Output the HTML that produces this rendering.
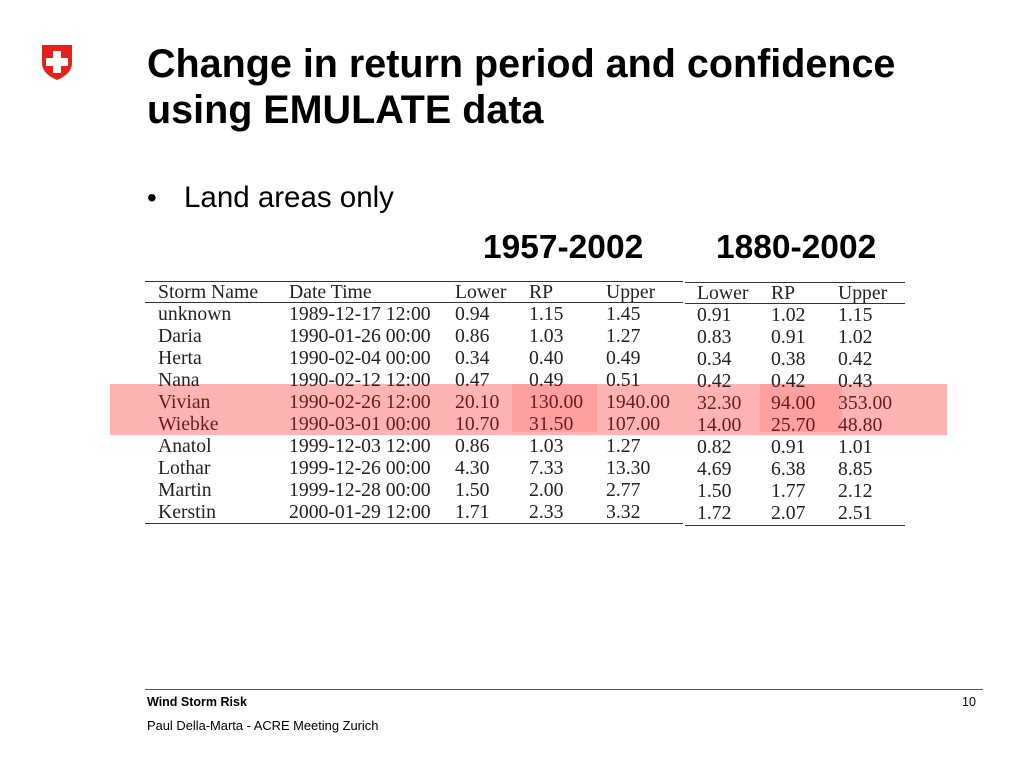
<!DOCTYPE html>
<html><head><meta charset="utf-8"><style>
body{margin:0;width:1024px;height:768px;background:#fff;position:relative;overflow:hidden;font-family:"Liberation Sans",sans-serif;color:#000}
.a{position:absolute;white-space:nowrap}
.s{font-family:"Liberation Serif",serif;font-size:19.7px;color:#222;line-height:22px}
.h{color:#6a1a1a}
.ln{position:absolute;height:1px;background:#333}
</style></head><body>
<svg class="a" style="left:40px;top:43px" width="34" height="38" viewBox="0 0 34 38">
<path d="M2 2 H32 V20 C32 29 24 34 17 37 C10 34 2 29 2 20 Z" fill="#e8201c"/>
<path d="M13 8h8v7h7v8h-7v7h-8v-7H6v-8h7z" fill="#fff"/></svg>
<div class="a" style="left:147px;top:41px;font-size:39.5px;font-weight:bold;line-height:46px">Change in return period and confidence<br>using EMULATE data</div>
<div class="a" style="left:147px;top:182px;font-size:28px">•</div>
<div class="a" style="left:184px;top:181px;font-size:29.5px">Land areas only</div>
<div class="a" style="left:483px;top:229px;font-size:33.5px;font-weight:bold">1957-2002</div>
<div class="a" style="left:716px;top:229px;font-size:33.5px;font-weight:bold">1880-2002</div>

<div class="a" style="left:110px;top:384px;width:837px;height:51px;background:#ffb4b4"></div>
<div class="a" style="left:512px;top:384px;width:85px;height:48px;background:#ffa0a0"></div>
<div class="a" style="left:760px;top:384px;width:82px;height:48px;background:#ffa0a0"></div>

<div class="ln" style="left:145px;top:281px;width:538px"></div>
<div class="ln" style="left:145px;top:302px;width:538px"></div>
<div class="ln" style="left:145px;top:523px;width:538px"></div>
<div class="ln" style="left:685px;top:282px;width:220px"></div>
<div class="ln" style="left:685px;top:303px;width:220px"></div>
<div class="ln" style="left:685px;top:525px;width:220px"></div>

<div class="a s" style="left:158px;top:281px">Storm Name<br>unknown<br>Daria<br>Herta<br>Nana<br><span class="h">Vivian<br>Wiebke</span><br>Anatol<br>Lothar<br>Martin<br>Kerstin</div>
<div class="a s" style="left:289px;top:281px">Date Time<br>1989-12-17 12:00<br>1990-01-26 00:00<br>1990-02-04 00:00<br>1990-02-12 12:00<br><span class="h">1990-02-26 12:00<br>1990-03-01 00:00</span><br>1999-12-03 12:00<br>1999-12-26 00:00<br>1999-12-28 00:00<br>2000-01-29 12:00</div>
<div class="a s" style="left:455px;top:281px">Lower<br>0.94<br>0.86<br>0.34<br>0.47<br><span class="h">20.10<br>10.70</span><br>0.86<br>4.30<br>1.50<br>1.71</div>
<div class="a s" style="left:529px;top:281px">RP<br>1.15<br>1.03<br>0.40<br>0.49<br><span class="h">130.00<br>31.50</span><br>1.03<br>7.33<br>2.00<br>2.33</div>
<div class="a s" style="left:606px;top:281px">Upper<br>1.45<br>1.27<br>0.49<br>0.51<br><span class="h">1940.00<br>107.00</span><br>1.27<br>13.30<br>2.77<br>3.32</div>
<div class="a s" style="left:697px;top:282px">Lower<br>0.91<br>0.83<br>0.34<br>0.42<br><span class="h">32.30<br>14.00</span><br>0.82<br>4.69<br>1.50<br>1.72</div>
<div class="a s" style="left:771px;top:282px">RP<br>1.02<br>0.91<br>0.38<br>0.42<br><span class="h">94.00<br>25.70</span><br>0.91<br>6.38<br>1.77<br>2.07</div>
<div class="a s" style="left:838px;top:282px">Upper<br>1.15<br>1.02<br>0.42<br>0.43<br><span class="h">353.00<br>48.80</span><br>1.01<br>8.85<br>2.12<br>2.51</div>

<div class="ln" style="left:145px;top:689px;width:838px;background:#555"></div>
<div class="a" style="left:147px;top:695px;font-size:12.5px;font-weight:bold">Wind Storm Risk</div>
<div class="a" style="left:962px;top:695px;font-size:12.5px">10</div>
<div class="a" style="left:147px;top:718px;font-size:12.9px">Paul Della-Marta - ACRE Meeting Zurich</div>
</body></html>
